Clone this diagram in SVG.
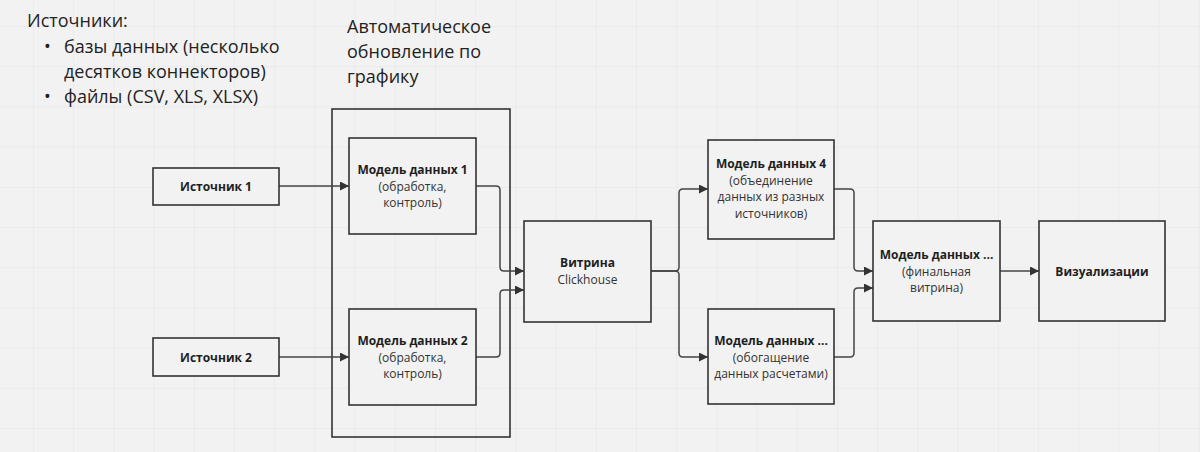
<svg xmlns="http://www.w3.org/2000/svg" width="1200" height="452" viewBox="0 0 1200 452">
<defs>
<pattern id="grid" x="33" y="26" width="40.2" height="40.2" patternUnits="userSpaceOnUse">
<path d="M0,0 H40.2 M0,0 V40.2" fill="none" stroke="#e4e4e4" stroke-width="1"/>
</pattern>
<marker id="arr" viewBox="0 0 10 10" refX="10" refY="5" markerWidth="9" markerHeight="9" markerUnits="userSpaceOnUse" orient="auto">
<path d="M0,0 L10,5 L0,10 z" fill="#333"/>
</marker>
</defs>
<style>
.box{fill:#f2f2f2;stroke:#333;stroke-width:1.6}
.frame{fill:none;stroke:#333;stroke-width:1.6}
.con{fill:none;stroke:#444;stroke-width:1.5;marker-end:url(#arr)}
.b{font-family:"Open Sans","Noto Sans",sans-serif;font-size:12px;font-weight:bold;fill:#1e1e1e;text-anchor:middle}
.n{font-family:"Open Sans","Noto Sans",sans-serif;font-size:12px;fill:#333;text-anchor:middle}
.big{font-family:"Open Sans","Noto Sans",sans-serif;font-size:18px;fill:#222}
</style>
<rect width="1200" height="452" fill="#f2f2f2"/>
<rect width="1200" height="452" fill="url(#grid)"/>

<g id="notes">
<text class="big" x="27" y="27">Источники:</text>
<text class="big" x="44" y="53">•</text>
<text class="big" x="64" y="53">базы данных (несколько</text>
<text class="big" x="64" y="78">десятков коннекторов)</text>
<text class="big" x="44" y="103">•</text>
<text class="big" x="64" y="103">файлы (CSV, XLS, XLSX)</text>
</g>

<g id="schedule">
<rect class="frame" x="332" y="109" width="178" height="328"/>
<text class="big" x="347" y="33">Автоматическое</text>
<text class="big" x="347" y="58">обновление по</text>
<text class="big" x="347" y="83">графику</text>
</g>

<g id="connectors">
<path class="con" d="M279,186 H349"/>
<path class="con" d="M279,357 H349"/>
<path class="con" d="M476,186 H496 Q500,186 500,190 V267 Q500,271 504,271 H524"/>
<path class="con" d="M476,357 H496 Q500,357 500,353 V294 Q500,290 504,290 H524"/>
<path class="con" d="M651,271 H675 Q679,271 679,267 V193 Q679,189 683,189 H708"/>
<path class="con" d="M651,271 H675 Q679,271 679,275 V353 Q679,357 683,357 H708"/>
<path class="con" d="M834,189 H850 Q854,189 854,193 V267 Q854,271 858,271 H873"/>
<path class="con" d="M834,357 H850 Q854,357 854,353 V292 Q854,288 858,288 H873"/>
<path class="con" d="M1000,271 H1039"/>
</g>

<g id="src1">
<rect class="box" x="153" y="168" width="126" height="37"/>
<text class="b" x="216" y="190.5">Источник 1</text>
</g>
<g id="src2">
<rect class="box" x="153" y="338" width="126" height="38"/>
<text class="b" x="216" y="361.5">Источник 2</text>
</g>
<g id="model1">
<rect class="box" x="349" y="138" width="127" height="96"/>
<text class="b" x="412.5" y="174">Модель данных 1</text>
<text class="n" x="412.5" y="190.5">(обработка,</text>
<text class="n" x="412.5" y="207">контроль)</text>
</g>
<g id="model2">
<rect class="box" x="349" y="309" width="127" height="96"/>
<text class="b" x="412.5" y="345">Модель данных 2</text>
<text class="n" x="412.5" y="361.5">(обработка,</text>
<text class="n" x="412.5" y="378">контроль)</text>
</g>
<g id="vitrina">
<rect class="box" x="524" y="221" width="127" height="101"/>
<text class="b" x="587.5" y="267">Витрина</text>
<text class="n" x="587.5" y="283.5">Clickhouse</text>
</g>
<g id="model4">
<rect class="box" x="708" y="140" width="126" height="99"/>
<text class="b" x="771" y="168">Модель данных 4</text>
<text class="n" x="771" y="184.5">(объединение</text>
<text class="n" x="771" y="201">данных из разных</text>
<text class="n" x="771" y="217.5">источников)</text>
</g>
<g id="model5">
<rect class="box" x="708" y="309" width="126" height="95"/>
<text class="b" x="771" y="345">Модель данных ...</text>
<text class="n" x="771" y="361.5">(обогащение</text>
<text class="n" x="771" y="378">данных расчетами)</text>
</g>
<g id="final">
<rect class="box" x="873" y="221" width="127" height="100"/>
<text class="b" x="936.5" y="259">Модель данных ...</text>
<text class="n" x="936.5" y="275.5">(финальная</text>
<text class="n" x="936.5" y="292">витрина)</text>
</g>
<g id="viz">
<rect class="box" x="1039" y="221" width="126" height="100"/>
<text class="b" x="1102" y="275.5">Визуализации</text>
</g>
</svg>
